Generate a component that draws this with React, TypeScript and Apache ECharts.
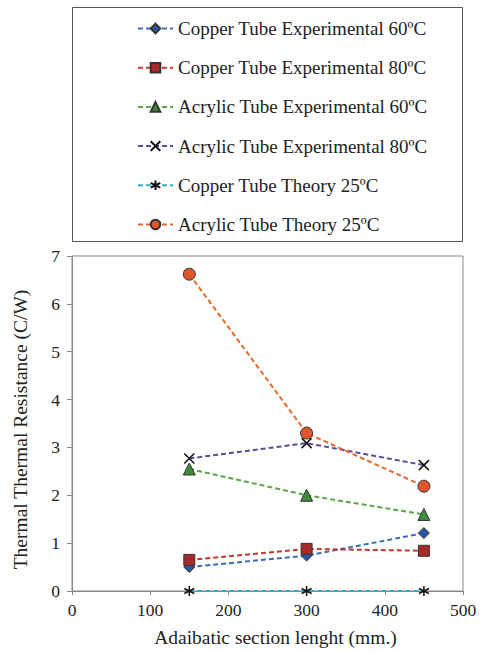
import React, { useEffect, useRef } from "react";
import * as echarts from "echarts";

const xPositions = [150, 300, 450];
const seriesNames = [
  "Copper Tube Experimental 60ºC",
  "Copper Tube Experimental 80ºC",
  "Acrylic Tube Experimental 60ºC",
  "Acrylic Tube Experimental 80ºC",
  "Copper Tube Theory 25ºC",
  "Acrylic Tube Theory 25ºC",
];
const copper60 = [0.5, 0.74, 1.21];
const copper80 = [0.65, 0.88, 0.84];
const acrylic60 = [2.55, 2.0, 1.6];
const acrylic80 = [2.77, 3.09, 2.63];
const copperTheory = [0.0, 0.0, 0.0];
const acrylicTheory = [6.62, 3.3, 2.19];
const xTicks = { min: 0, max: 500, interval: 100 };
const yTicks = { min: 0, max: 7, interval: 1 };

const FONT = "'Liberation Serif', 'Times New Roman', 'DejaVu Serif', serif";

const xPath = "path://M0,0L10,10M10,0L0,10";
const starPath = "path://M5,0L5,10M0,2.5L10,7.5M10,2.5L0,7.5";

export default function App() {
  const ref = useRef<HTMLDivElement>(null);
  useEffect(() => {
    if (!ref.current) return;
    const chart = echarts.init(ref.current, undefined, { renderer: "svg" });
    const allValues = [copper60, copper80, acrylic60, acrylic80, copperTheory, acrylicTheory];
    const styles = [
      { line: "#3a6db5", fill: "#2a55a0", symbol: "diamond", size: 11 },
      { line: "#c0392f", fill: "#a52a2a", symbol: "rect", size: 11 },
      { line: "#5aa845", fill: "#3e8c3a", symbol: "triangle", size: 12 },
      { line: "#5b4a9e", fill: "none", symbol: xPath, size: 10 },
      { line: "#2aaed0", fill: "none", symbol: starPath, size: 10 },
      { line: "#e8692c", fill: "#e0552a", symbol: "circle", size: 12 },
    ];
    const series = allValues.map((vals, i) => {
      const s = styles[i];
      const isPath = s.fill === "none";
      return {
        name: seriesNames[i],
        type: "line",
        data: vals.map((v, j) => [xPositions[j], v]),
        symbol: s.symbol,
        symbolSize: s.size,
        showAllSymbol: true,
        lineStyle: { color: s.line, width: 2, type: [5, 3] },
        itemStyle: isPath
          ? { color: "transparent", borderColor: "#111", borderWidth: 1.5 }
          : { color: s.fill, borderColor: "#333", borderWidth: 1 },
        z: 2 + i,
      };
    });
    chart.setOption({
      animation: false,
      backgroundColor: "#fff",
      textStyle: { fontFamily: FONT },
      graphic: [
        {
          type: "rect",
          shape: { x: 72.5, y: 7.5, width: 390, height: 234 },
          style: { fill: "none", stroke: "#555", lineWidth: 1 },
        },
      ],
      legend: {
        orient: "vertical",
        left: 137,
        top: 19,
        padding: 0,
        itemWidth: 35,
        itemHeight: 12,
        itemGap: 20.2,
        textStyle: { fontFamily: FONT, fontSize: 19, color: "#222" },
        data: seriesNames,
      },
      grid: {
        left: 72,
        right: 22,
        top: 256,
        bottom: 60,
        show: true,
        borderColor: "#888",
        borderWidth: 1,
        containLabel: false,
      },
      xAxis: {
        type: "value",
        ...xTicks,
        name: "Adaibatic section lenght (mm.)",
        nameLocation: "middle",
        nameGap: 36,
        nameTextStyle: { fontFamily: FONT, fontSize: 19.5, color: "#222", padding: [0, 0, 0, 16] },
        axisLine: { show: true, onZero: false, lineStyle: { color: "#888" } },
        axisTick: { show: true, inside: false, length: 4, lineStyle: { color: "#888" } },
        axisLabel: { fontFamily: FONT, fontSize: 17.5, color: "#222", margin: 10 },
        splitLine: { show: false },
      },
      yAxis: {
        type: "value",
        ...yTicks,
        name: "Thermal Thermal Resistance (C/W)",
        nameLocation: "middle",
        nameGap: 42,
        nameTextStyle: { fontFamily: FONT, fontSize: 19.5, color: "#222", padding: [0, 12, 0, 0] },
        axisLine: { show: true, lineStyle: { color: "#888" } },
        axisTick: { show: true, inside: false, length: 5, lineStyle: { color: "#888" } },
        axisLabel: { fontFamily: FONT, fontSize: 17.5, color: "#222", margin: 12 },
        splitLine: { show: false },
      },
      series,
    });
    return () => chart.dispose();
  }, []);
  return <div ref={ref} style={{ width: 485, height: 652, position: "absolute", left: 0, top: 0 }} />;
}
